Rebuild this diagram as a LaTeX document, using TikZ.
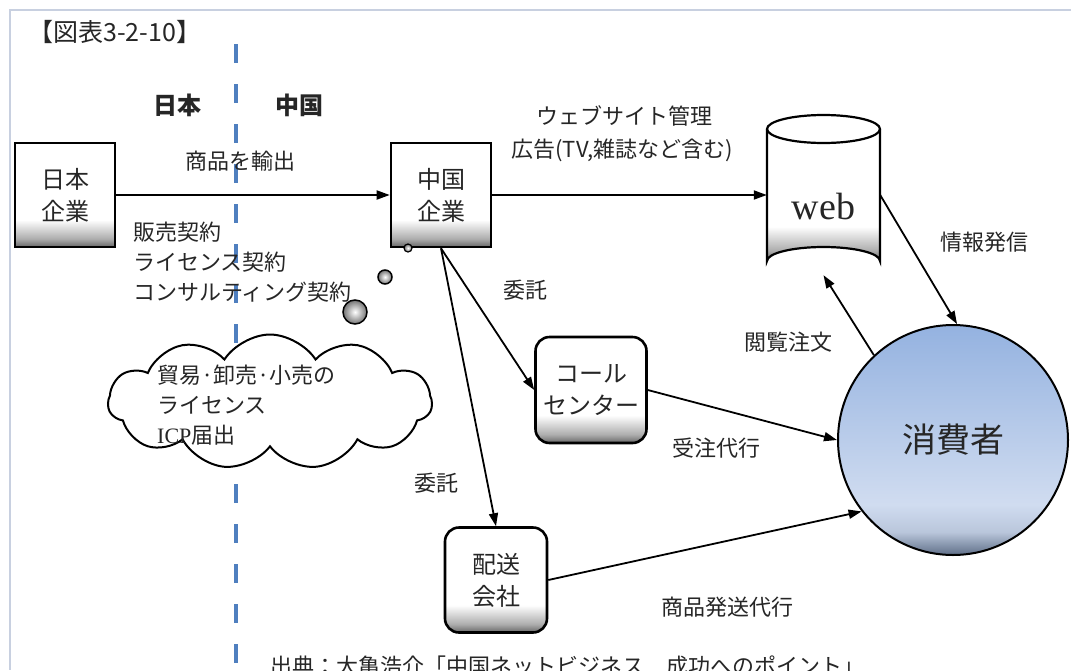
\documentclass[tikz,border=0pt]{standalone}
\usepackage{fontspec}
\setmainfont{Noto Sans CJK JP}
\newfontfamily\latinserif{Liberation Serif}
\usetikzlibrary{arrows.meta,shapes.symbols,shapes.geometric}

% white body fading to grey at the bottom edge
\pgfdeclareverticalshading{boxfade}{100bp}{color(0bp)=(black!60); color(25bp)=(black!60); color(29bp)=(black!32); color(38bp)=(white); color(100bp)=(white)}
% blue disc, darker rim at the bottom
\definecolor{discedge}{HTML}{5F6F88}
\definecolor{disclow}{HTML}{D0DCF0}
\definecolor{dischigh}{HTML}{94B2E0}
\pgfdeclareverticalshading{discfade}{100bp}{color(0bp)=(discedge); color(25bp)=(discedge); color(30bp)=(disclow!80!discedge); color(36bp)=(disclow); color(75bp)=(dischigh); color(100bp)=(dischigh)}
% cloud: white inside, grey only close to the rim
\pgfdeclareradialshading{cloudfade}{\pgfpoint{0bp}{0bp}}{color(0bp)=(white); color(36bp)=(white); color(46bp)=(black!35); color(50bp)=(black!45)}
\definecolor{divider}{HTML}{4F7FBF}
\definecolor{framecol}{HTML}{C8D0E0}

\begin{document}
\begin{tikzpicture}[x=1pt,y=-1pt,
  every node/.style={font=\fontsize{22}{30}\selectfont, text=black!85},
  flowbox/.style={draw, line width=2.6pt, shading=boxfade, minimum width=100pt, minimum height=104pt, align=center, inner sep=0pt, font=\fontsize{24}{32}\selectfont},
  roundbox/.style={flowbox, rounded corners=14pt},
  arr/.style={-{Triangle[length=13pt,width=9pt]}, line width=1.8pt},
  lbl/.style={inner sep=0pt},
  bubble/.style={draw, line width=1.5pt, inner color=white, outer color=black!55}
]
\useasboundingbox (0,0) rectangle (1071,670);
\fill[white] (0,0) rectangle (1071,670);

% page frame
\draw[framecol, line width=1.2pt] (1071,10) -- (10,10) -- (10,670);

% title and country headings
\node[lbl, anchor=west, font=\fontsize{25}{30}\selectfont] (title) at (28,32) {【図表3-2-10】};
\node[lbl, font=\fontsize{24}{30}\selectfont\bfseries] (jp) at (177,105) {日本};
\node[lbl, font=\fontsize{24}{30}\selectfont\bfseries] (cn) at (299,105) {中国};

% border between Japan and China
\draw[divider, line width=4pt, dash pattern=on 19pt off 21pt] (236,44) -- (236,670);

% companies
\node[flowbox] (jpco) at (65,195) {日本\\企業};
\node[flowbox] (cnco) at (441,195) {中国\\企業};

% website cylinder
\fill[shading=boxfade] (767,129) -- (767,261) arc[start angle=180, end angle=360, x radius=56.5, y radius=14] -- (880,129) -- cycle;
\draw[line width=2.2pt, fill=white] (823.5,129) ellipse[x radius=56.5, y radius=14];
\draw[line width=2.2pt] (767,129) -- (767,261) arc[start angle=180, end angle=360, x radius=56.5, y radius=14] -- (880,129);
\node[inner sep=0pt, minimum width=113pt, minimum height=160pt] (web) at (823.5,195) {};
\node[lbl, font=\latinserif\fontsize{38}{40}\selectfont] (webtxt) at (823.5,206) {web};

% consumer
\node[circle, draw, line width=2pt, shading=discfade, minimum size=230pt, inner sep=0pt, font=\fontsize{34}{40}\selectfont] (cons) at (953,440) {消費者};

% service providers
\node[roundbox, minimum width=111pt, minimum height=106pt] (call) at (591,390) {コール\\センター};
\node[roundbox, minimum width=102pt, minimum height=105pt] (ship) at (496,580) {配送\\会社};

% contract cloud with thought bubbles
\node[cloud, cloud puffs=11, cloud puff arc=115, aspect=2.4, draw, line width=2pt, shading=cloudfade, minimum width=324pt, minimum height=135pt] (cloud) at (270,402) {};
\node[lbl, anchor=west, align=left] (cloudtxt) at (157,405) {貿易·卸売·小売の\\ライセンス\\{\latinserif ICP}届出};
\node[bubble, circle, minimum size=24pt, inner sep=0pt] (b3) at (355,312) {};
\node[bubble, circle, minimum size=14pt, inner sep=0pt] (b2) at (385,277) {};
\node[bubble, circle, minimum size=8pt, inner sep=0pt, line width=1.2pt] (b1) at (408,248) {};

% flows
\draw[arr] (jpco.east) -- (cnco.west);
\draw[arr] (cnco.east) -- (web.west);
\draw[arr] (web.east) -- (cons.88);
\draw[arr] (cons.133) -- (web.south);
\draw[arr] (cnco.south) -- (call.west);
\draw[arr] (cnco.south) -- (ship.north);
\draw[arr] (call.east) -- (cons.west);
\draw[arr] (ship.east) -- (cons.218);

% flow labels
\node[lbl] (l1) at (240,161) {商品を輸出};
\node[lbl, anchor=west, align=left] (l2) at (133,262) {販売契約\\ライセンス契約\\コンサルティング契約};
\node[lbl] (l3) at (624,116) {ウェブサイト管理};
\node[lbl] (l4) at (622,150) {広告(TV,雑誌など含む)};
\node[lbl] (l5) at (984,242) {情報発信};
\node[lbl] (l6) at (788,342) {閲覧注文};
\node[lbl] (l7) at (525,290) {委託};
\node[lbl] (l8) at (716,448) {受注代行};
\node[lbl] (l9) at (436,483) {委託};
\node[lbl] (l10) at (727,607) {商品発送代行};

% source note, running off the lower edge
\node[lbl, anchor=west] (src) at (270,666) {出典：大亀浩介「中国ネットビジネス　成功へのポイント」};
\end{tikzpicture}
\end{document}
